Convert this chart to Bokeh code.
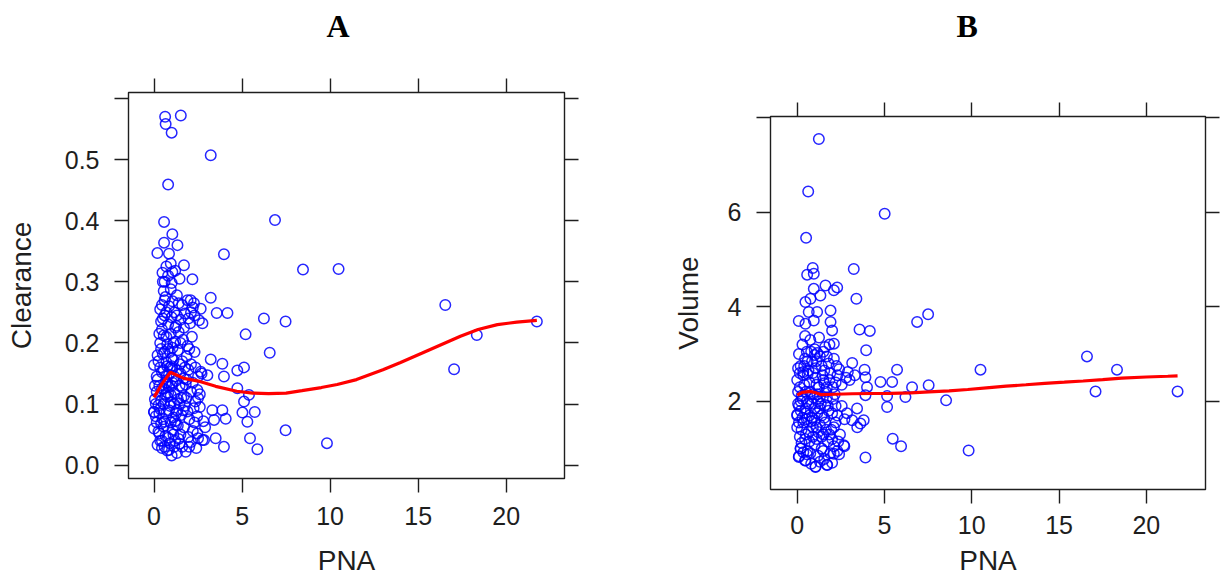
from bokeh.plotting import figure
from bokeh.layouts import row, column
from bokeh.models import LinearAxis, FixedTicker, Range1d, CustomJSTickFormatter
from bokeh.embed import file_html
from bokeh.resources import INLINE

# ---------------- Panel A data: PNA vs Clearance ----------------
pna_a = [0.63, 1.52, 0.66, 1.00, 3.22, 0.80, 0.57, 6.87, 1.04, 1.33, 0.57, 0.19, 0.85, 3.97, 0.95,
         1.70, 0.48, 1.04, 2.18, 8.46, 10.48, 16.54, 18.33, 21.74, 17.04, 9.82, 7.47, 7.47, 6.24, 6.57,
         5.20, 3.22, 3.56, 4.17, 2.65, 2.27, 2.08, 2.55, 2.75, 3.22, 3.88, 4.73, 5.11, 3.97, 3.03,
         2.65, 4.73, 5.39, 5.11, 3.31, 3.88, 4.07, 3.41, 5.02, 5.72, 5.30, 3.50, 3.97, 5.45, 5.87,
         2.84, 2.46, 0.00, 0.00, 2.46,
         0.20, 0.45, 0.75, 1.00, 1.15, 1.45, 1.80, 2.10, 0.35, 1.30, 0.90, 2.40,
         0.00, 0.30, 0.55, 0.80, 1.05, 1.25, 1.50, 1.70, 1.95, 2.20, 2.50, 0.15, 0.65, 1.40, 2.75, 2.90,
         0.00, 0.10, 0.35, 0.50, 0.70, 0.90, 1.10, 1.30, 1.55, 1.75, 2.00, 2.25, 2.45, 0.25, 0.60, 1.20, 1.90, 2.60, 2.80,
         0.15, 0.40, 0.55, 0.75, 0.95, 1.15, 1.35, 1.60, 1.85, 2.10, 2.35, 0.30, 0.85, 1.45, 2.60, 0.05, 1.00, 1.70,
         0.20, 0.45, 0.65, 0.85, 1.05, 1.25, 1.50, 1.70, 1.95, 2.20, 2.50, 0.35, 1.15, 0.75, 1.80, 2.70,
         0.25, 0.50, 0.70, 0.90, 1.10, 1.35, 1.60, 1.85, 2.10, 0.40, 1.00, 1.45, 2.30,
         0.35, 0.55, 0.75, 0.95, 1.20, 1.40, 1.65, 1.90, 2.15, 0.45, 1.05,
         0.40, 0.60, 0.80, 1.00, 1.25, 1.50, 1.75, 2.05, 2.30, 0.70, 1.15,
         0.45, 0.65, 0.85, 1.05, 1.30, 1.60, 1.90, 2.20, 0.55, 0.95, 1.40,
         0.60, 0.80, 1.00, 1.20, 0.70, 1.45,
         0.30, 0.50, 0.60, 0.70, 0.80, 0.85, 0.95, 1.10, 0.40, 0.55, 0.65, 0.75, 0.90, 1.00, 1.10, 1.20,
         1.30, 0.35, 0.50, 0.60, 0.70, 0.80, 1.15, 1.25, 1.35, 1.45, 1.55, 1.65, 1.75, 1.85, 2.00, 2.10,
         0.25, 0.45, 0.60, 0.85, 1.20, 1.60, 2.00, 2.30, 2.50, 2.35, 0.20, 0.30, 0.45, 0.55, 0.15, 0.10,
         0.05, 1.50, 1.70, 1.95, 1.30, 1.05, 0.95]
clearance = [0.570, 0.572, 0.558, 0.544, 0.507, 0.459, 0.398, 0.401, 0.378, 0.360, 0.364, 0.347, 0.346, 0.345, 0.330,
             0.327, 0.315, 0.316, 0.304, 0.320, 0.321, 0.262, 0.213, 0.235, 0.157, 0.036, 0.057, 0.235, 0.240, 0.184,
             0.214, 0.274, 0.249, 0.249, 0.256, 0.265, 0.270, 0.237, 0.232, 0.173, 0.166, 0.155, 0.160, 0.145, 0.147,
             0.153, 0.126, 0.115, 0.104, 0.090, 0.090, 0.076, 0.074, 0.086, 0.087, 0.071, 0.044, 0.030, 0.044, 0.026,
             0.041, 0.052, 0.164, 0.087, 0.123,
             0.033, 0.028, 0.024, 0.016, 0.030, 0.035, 0.022, 0.038, 0.040, 0.020, 0.036, 0.028,
             0.060, 0.052, 0.063, 0.045, 0.058, 0.066, 0.050, 0.062, 0.046, 0.056, 0.044, 0.070, 0.048, 0.043, 0.041, 0.062,
             0.087, 0.080, 0.092, 0.075, 0.085, 0.097, 0.078, 0.090, 0.082, 0.097, 0.075, 0.093, 0.080, 0.098, 0.071, 0.072, 0.088, 0.095, 0.072,
             0.120, 0.105, 0.125, 0.112, 0.103, 0.118, 0.108, 0.127, 0.110, 0.120, 0.104, 0.130, 0.128, 0.101, 0.116, 0.108, 0.130, 0.113,
             0.140, 0.152, 0.135, 0.148, 0.158, 0.138, 0.150, 0.142, 0.156, 0.135, 0.145, 0.160, 0.145, 0.162, 0.132, 0.150,
             0.170, 0.182, 0.168, 0.185, 0.172, 0.188, 0.170, 0.178, 0.165, 0.190, 0.162, 0.165, 0.185,
             0.200, 0.212, 0.198, 0.215, 0.202, 0.218, 0.205, 0.195, 0.210, 0.222, 0.192,
             0.235, 0.245, 0.230, 0.242, 0.228, 0.238, 0.248, 0.232, 0.245, 0.250, 0.250,
             0.262, 0.275, 0.260, 0.268, 0.278, 0.262, 0.270, 0.258, 0.285, 0.288, 0.265,
             0.300, 0.310, 0.298, 0.318, 0.325, 0.305,
             0.215, 0.240, 0.185, 0.145, 0.118, 0.090, 0.070, 0.050, 0.068, 0.100, 0.115, 0.135, 0.160, 0.175, 0.200, 0.225,
             0.245, 0.255, 0.300, 0.270, 0.210, 0.190, 0.100, 0.085, 0.065, 0.130, 0.110, 0.090, 0.160, 0.140, 0.190, 0.250,
             0.055, 0.040, 0.030, 0.025, 0.040, 0.030, 0.030, 0.070, 0.110, 0.160, 0.180, 0.085, 0.125, 0.155, 0.145, 0.100,
             0.130, 0.200, 0.225, 0.240, 0.155, 0.135, 0.115]
smooth_x_a = [0.0, 0.45, 0.93, 1.4, 1.7, 2.6, 3.5, 4.7, 5.6, 6.5, 7.5, 8.4, 9.5, 10.4, 11.5, 13.0,
              14.0, 15.2, 16.3, 17.4, 18.4, 19.5, 20.6, 21.74]
smooth_y_a = [0.111, 0.133, 0.152, 0.146, 0.142, 0.137, 0.129, 0.121, 0.118, 0.117, 0.118, 0.122, 0.127, 0.132,
              0.140, 0.156, 0.168, 0.183, 0.197, 0.211, 0.222, 0.230, 0.234, 0.237]

# ---------------- Panel B data: PNA vs Volume ----------------
pna_b = [1.24, 0.63, 5.01, 0.51, 3.24, 0.89, 0.57, 0.95, 1.62, 2.10, 2.29, 0.95, 1.33, 3.39, 0.47, 0.76,
         0.66, 1.14, 1.91, 0.09, 0.47, 0.95, 1.91, 2.00, 2.10, 3.57, 4.16, 6.87, 7.50, 3.95, 16.60, 3.15,
         3.86, 5.72, 10.50, 18.32, 3.91, 4.77, 5.44, 6.58, 7.53, 17.09, 21.79, 3.91, 5.15, 5.15, 6.20, 8.53,
         3.43, 3.62, 3.15, 3.81, 3.44, 2.71, 5.47, 5.95, 9.82, 3.91, 2.67, 2.10, 1.72, 1.05, 0.48, 0.09,
         0.19, 0.00, 2.90, 3.30, 4.00,
         0.10, 0.20, 0.45, 0.60, 0.80, 1.05, 1.20, 1.40, 1.70, 1.90, 2.10, 2.40, 2.70, 0.35, 1.55, 1.00,
         0.00, 0.15, 0.35, 0.50, 0.70, 0.90, 1.10, 1.30, 1.50, 1.75, 1.95, 2.20, 2.45, 0.25, 1.20, 1.60, 2.00, 0.80,
         0.00, 0.10, 0.30, 0.45, 0.65, 0.85, 1.00, 1.20, 1.40, 1.60, 1.80, 2.05, 2.30, 2.55, 2.85, 0.55, 1.30, 1.70, 0.20, 0.95,
         0.00, 0.15, 0.35, 0.50, 0.70, 0.90, 1.05, 1.25, 1.45, 1.65, 1.85, 2.05, 2.30, 2.55, 2.80, 0.25, 0.60, 1.15, 1.55, 2.15, 3.00,
         0.20, 0.45, 0.65, 0.85, 1.05, 1.30, 1.55, 1.80, 2.10, 2.40, 0.35, 1.00, 1.70, 2.25,
         0.30, 0.55, 0.75, 1.00, 1.25, 1.50, 1.85, 0.45, 1.15,
         0.20, 0.40, 0.55, 0.75, 0.90, 1.10, 1.30, 1.50, 1.70, 1.90, 2.20, 0.30, 0.50, 0.70, 0.85, 1.00,
         1.15, 1.35, 1.55, 1.75, 2.00, 2.20, 0.15, 0.40, 0.60, 0.80, 1.10, 1.40, 1.60, 0.25, 0.45, 0.65,
         0.90, 1.10, 1.40, 1.65, 1.85, 2.10, 2.35, 0.05, 0.05, 0.05, 0.10, 0.10, 0.55, 0.75, 1.30, 1.50,
         2.00, 2.30]
volume = [7.55, 6.44, 5.97, 5.46, 4.80, 4.82, 4.68, 4.70, 4.45, 4.35, 4.41, 4.38, 4.24, 4.17, 4.10, 4.17,
          3.89, 3.89, 3.92, 3.70, 3.64, 3.71, 3.68, 3.50, 3.22, 3.52, 3.49, 3.68, 3.84, 3.08, 2.95, 2.81,
          2.67, 2.67, 2.67, 2.67, 2.51, 2.41, 2.41, 2.30, 2.34, 2.21, 2.21, 2.13, 2.11, 1.88, 2.09, 2.02,
          1.85, 1.53, 1.60, 1.60, 1.45, 1.62, 1.21, 1.05, 0.96, 0.81, 1.07, 0.89, 0.65, 0.61, 0.75, 0.82,
          1.00, 1.72, 2.62, 2.55, 2.30,
          0.84, 1.00, 0.75, 0.95, 0.68, 0.62, 0.85, 1.00, 0.66, 0.90, 1.05, 0.88, 1.05, 0.92, 0.78, 1.08,
          1.45, 1.25, 1.55, 1.30, 1.15, 1.45, 1.20, 1.50, 1.30, 1.15, 1.40, 1.55, 1.30, 1.12, 1.35, 1.55, 1.20, 1.58,
          1.70, 1.90, 2.05, 1.75, 1.95, 1.65, 1.85, 2.00, 1.70, 1.92, 1.80, 2.05, 1.70, 1.90, 1.75, 1.62, 1.85, 2.08, 1.80, 2.08,
          2.45, 2.30, 2.55, 2.20, 2.40, 2.15, 2.50, 2.30, 2.55, 2.20, 2.45, 2.30, 2.55, 2.35, 2.50, 2.12, 2.58, 2.15, 2.38, 2.15, 2.45,
          2.75, 2.90, 2.65, 2.85, 2.70, 2.95, 2.65, 2.80, 2.90, 2.68, 2.62, 2.98, 2.95, 2.75,
          3.20, 3.05, 3.30, 3.10, 3.35, 3.05, 3.20, 3.38, 3.02,
          2.00, 2.35, 2.00, 2.20, 2.60, 2.35, 2.10, 2.45, 2.30, 2.60, 2.40, 1.65, 1.85, 1.70, 1.95, 1.60,
          1.75, 1.95, 1.65, 1.90, 1.75, 1.90, 2.60, 2.75, 2.85, 3.05, 2.85, 2.75, 3.15, 1.40, 1.20, 1.35,
          1.25, 1.45, 1.25, 1.40, 1.30, 1.45, 1.15, 2.20, 1.95, 2.70, 3.00, 1.55, 0.88, 0.90, 0.72, 0.95,
          0.70, 0.95]
smooth_x_b = [0.0, 0.29, 0.73, 1.06, 1.39, 2.2, 3.15, 4.3, 5.36, 6.5, 7.56, 8.7, 9.77, 11.0, 11.97, 13.1,
              14.18, 15.3, 16.38, 17.5, 18.59, 20.0, 21.23, 21.79]
smooth_y_b = [2.13, 2.19, 2.21, 2.18, 2.14, 2.15, 2.16, 2.165, 2.17, 2.18, 2.20, 2.22, 2.25, 2.29, 2.32, 2.35,
              2.38, 2.405, 2.43, 2.46, 2.49, 2.515, 2.53, 2.54]

x_ticks = [0, 5, 10, 15, 20]
y_ticks_a = [0.0, 0.1, 0.2, 0.3, 0.4, 0.5, 0.6]
y_labels_a = {0.0: "0.0", 0.1: "0.1", 0.2: "0.2", 0.3: "0.3", 0.4: "0.4", 0.5: "0.5", 0.6: ""}
y_ticks_b = [2, 4, 6, 8]
y_labels_b = {2: "2", 4: "4", 6: "6", 8: ""}

INK = "#1e1e1e"
SANS = "Liberation Sans"


def style_axis(ax, ticks, show_labels, overrides=None, standoff=10):
    ax.ticker = FixedTicker(ticks=ticks)
    ax.axis_line_color = None
    ax.major_tick_in = 0
    ax.major_tick_out = 14
    ax.major_tick_line_color = INK
    ax.major_tick_line_width = 1.4
    ax.minor_tick_line_color = None
    ax.major_label_text_font = SANS
    ax.major_label_text_font_size = "25px"
    ax.major_label_text_color = INK
    ax.major_label_standoff = standoff
    ax.axis_label_text_font = SANS
    ax.axis_label_text_font_size = "28px"
    ax.axis_label_text_font_style = "normal"
    ax.axis_label_text_color = INK
    if not show_labels:
        # blank (non-breaking space) labels: invisible, but they reserve room
        ax.formatter = CustomJSTickFormatter(code="return '\\u00a0'")
        ax.major_label_text_font_size = "10px"
    elif overrides is not None:
        ax.major_label_overrides = overrides


def panel(title, title_off, top_gap, xs, ys, sx, sy, ylab, xr, yr, yticks, ylabels,
          ml, fw, mr, fh, mb, ylab_standoff, xtick_standoff, xlab_standoff):
    p = figure(frame_width=fw, frame_height=fh, x_range=Range1d(*xr), y_range=Range1d(*yr),
               output_backend="svg", toolbar_location=None,
               min_border_left=ml, min_border_right=mr, min_border_top=0, min_border_bottom=mb,
               background_fill_color="white", border_fill_color="white")
    p.title.text = title
    p.title.align = "left"
    p.title.offset = title_off
    p.title.vertical_align = "middle"
    p.title.standoff = 12
    p.title.text_font = "Liberation Serif"
    p.title.text_font_style = "bold"
    p.title.text_font_size = "32px"
    p.title.text_color = "#000000"
    p.xgrid.visible = False
    p.ygrid.visible = False
    p.outline_line_color = INK
    p.outline_line_width = 1.4

    style_axis(p.xaxis[0], x_ticks, True, standoff=xtick_standoff)
    p.xaxis[0].axis_label = "PNA"
    p.xaxis[0].axis_label_standoff = xlab_standoff
    style_axis(p.yaxis[0], yticks, True, overrides=ylabels, standoff=15)
    p.yaxis[0].axis_label = ylab
    p.yaxis[0].axis_label_standoff = ylab_standoff

    top = LinearAxis()
    style_axis(top, x_ticks, False, standoff=top_gap)
    p.add_layout(top, "above")
    right = LinearAxis()
    style_axis(right, yticks, False, standoff=0)
    p.add_layout(right, "right")

    p.scatter(xs, ys, marker="circle", size=10.5, fill_color=None,
              line_color="#0000ff", line_width=1.5, line_alpha=0.85)
    p.line(sx, sy, line_color="#ff0000", line_width=3.2)
    return p


pa = panel("A", 198, 14, pna_a, clearance, smooth_x_a, smooth_y_a, "Clearance",
           (-1.45, 23.31), (-0.0218, 0.6097), y_ticks_a, y_labels_a,
           ml=128, fw=436, mr=56, fh=386, mb=107,
           ylab_standoff=25, xtick_standoff=14, xlab_standoff=17)
pb = panel("B", 186, 38, pna_b, volume, smooth_x_b, smooth_y_b, "Volume",
           (-1.53, 23.39), (0.134, 8.027), y_ticks_b, y_labels_b,
           ml=150, fw=435, mr=20, fh=373, mb=96,
           ylab_standoff=21, xtick_standoff=12, xlab_standoff=8)

layout = row(column(pa), column(pb))
open("out.html", "w").write(file_html(layout, INLINE))
